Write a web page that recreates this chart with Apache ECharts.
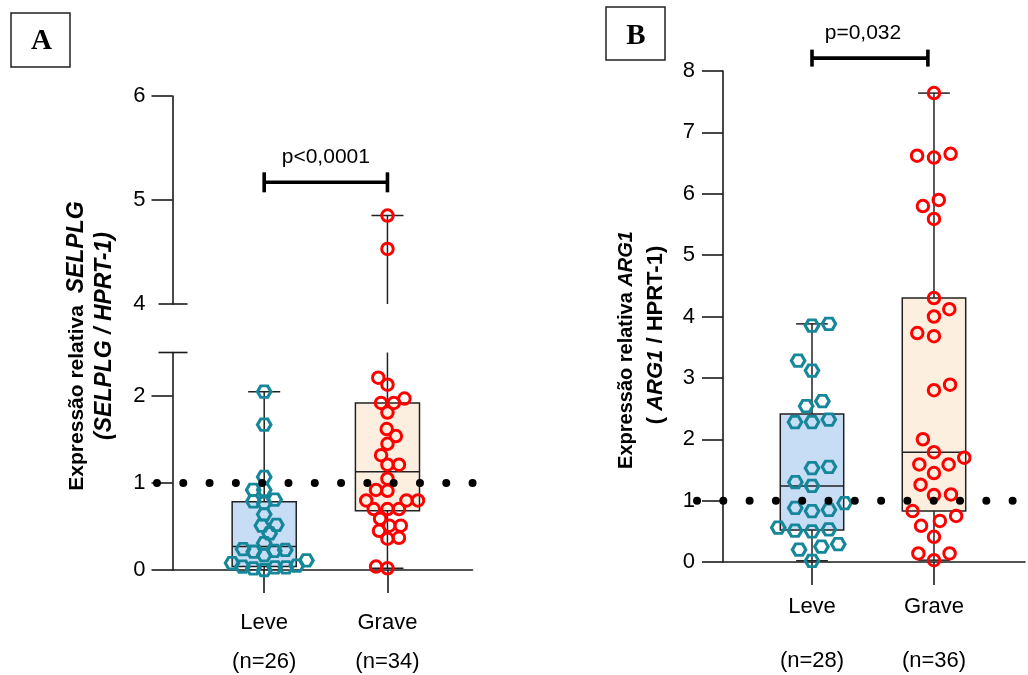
<!DOCTYPE html>
<html><head><meta charset="utf-8">
<script src="https://cdn.jsdelivr.net/npm/echarts@6/dist/echarts.min.js"></script>
<style>html,body{margin:0;padding:0;background:#fff}#c{width:1028px;height:675px}</style>
</head><body><div id="c"></div>
<script>
// ---------- data ----------
const categories = ['Leve', 'Grave'];
const nLabelsA = ['(n=26)', '(n=34)'];
const nLabelsB = ['(n=28)', '(n=36)'];

const selplgLeve = [2.05, 1.67, 1.07, 0.92, 0.92, 0.81, 0.77, 0.79, 0.64, 0.52, 0.51, 0.42, 0.31,
  0.23, 0.22, 0.21, 0.24, 0.17, 0.11, 0.08, 0.03, 0.04, 0.00, 0.05, 0.02, 0.03];
const selplgGrave = [4.85, 4.53, 2.21, 2.13, 1.92, 1.97, 1.92, 1.81, 1.62, 1.54, 1.45, 1.32, 1.21,
  1.21, 1.05, 0.91, 0.92, 0.80, 0.80, 0.80, 0.70, 0.70, 0.70, 0.59, 0.51, 0.51, 0.45, 0.36, 0.37, 0.02, 0.04];
const arg1Leve = [3.85, 3.88, 3.28, 3.12, 2.54, 2.62, 2.32, 2.28, 2.28, 1.53, 1.55, 1.24, 1.30,
  0.96, 0.83, 0.85, 0.88, 0.50, 0.53, 0.51, 0.56, 0.25, 0.20, 0.29, 0.02];
const arg1Grave = [7.64, 6.62, 6.65, 6.59, 5.90, 5.80, 5.59, 4.30, 4.12, 4.00, 3.73, 3.68, 2.80,
  2.89, 2.00, 1.79, 1.70, 1.59, 1.59, 1.45, 1.26, 1.10, 1.09, 0.83, 0.67, 0.75, 0.59, 0.41, 0.14, 0.14, 0.03];

// box stats: [min, q1, median, q3, max]
const boxSelplgLeve = [0.00, 0.04, 0.27, 0.785, 2.05];
const boxSelplgGrave = [0.02, 0.68, 1.13, 1.92, 4.85];
const boxArg1Leve = [0.02, 0.52, 1.24, 2.41, 3.88];
const boxArg1Grave = [0.03, 0.83, 1.79, 4.30, 7.64];

const ticksALow = [0, 1, 2];
const ticksAHigh = [4, 5, 6];
const ticksB = [0, 1, 2, 3, 4, 5, 6, 7, 8];
const breakLow = 2.5, breakHigh = 4;
const refValue = 1;
const pTextA = 'p<0,0001', pTextB = 'p=0,032';
const sigA = [1, 2, 5.17];
const sigB = [1, 1.95, 8.21];

// ---------- style ----------
const FONT = '"Liberation Sans", Arial, Helvetica, sans-serif';
const TEAL = '#15879b', RED = '#ff0000';
const FILL_LEVE = '#c7dcf5', FILL_GRAVE = '#fdefdf';
const INK = '#1a1a1a';
const BOX_HALF = 0.26, CAP_HALF = 0.13;
const HEX = 'path://M0,8.66L5,0L15,0L20,8.66L15,17.32L5,17.32Z';

const xMinA = 0.256, xMaxA = 2.69;
const xMinB = 0.2705, xMaxB = 2.746;

function xAxisCfg(gi, mn, mx, nLabels, margin, l2, show) {
  return {
    type: 'value', gridIndex: gi, min: mn, max: mx, show: show,
    axisLine: { show: true, onZero: false, lineStyle: { color: INK, width: 1.6 } },
    axisTick: { show: true, customValues: [1, 2], length: 23, lineStyle: { color: INK, width: 1.6 } },
    splitLine: { show: false },
    axisLabel: {
      customValues: [1, 2], margin: margin,
      formatter: v => '{a|' + categories[Math.round(v) - 1] + '}\n{b|' + nLabels[Math.round(v) - 1] + '}',
      rich: {
        a: { fontSize: 22, lineHeight: 26, color: '#000', fontFamily: FONT },
        b: { fontSize: 22, lineHeight: l2, color: '#000', fontFamily: FONT }
      }
    }
  };
}
function yAxisCfg(gi, mn, mx, labels, ticks, margin) {
  return {
    type: 'value', gridIndex: gi, min: mn, max: mx,
    axisLine: { show: true, onZero: false, lineStyle: { color: INK, width: 1.6 } },
    axisTick: { show: true, customValues: ticks, length: 21, lineStyle: { color: INK, width: 1.6 } },
    splitLine: { show: false },
    axisLabel: { customValues: labels, margin: margin, fontSize: 22, color: '#000', fontFamily: FONT }
  };
}

function boxRenderer(fill) {
  return function (params, api) {
    const x = api.value(0);
    const mn = api.coord([x, api.value(1)]), q1 = api.coord([x, api.value(2)]);
    const md = api.coord([x, api.value(3)]), q3 = api.coord([x, api.value(4)]);
    const mx = api.coord([x, api.value(5)]);
    const bl = api.coord([x - BOX_HALF, 0])[0], br = api.coord([x + BOX_HALF, 0])[0];
    const cl = api.coord([x - CAP_HALF, 0])[0], cr = api.coord([x + CAP_HALF, 0])[0];
    const st = { stroke: '#222', lineWidth: 1.5 };
    return {
      type: 'group', children: [
        { type: 'line', shape: { x1: mx[0], y1: mx[1], x2: q3[0], y2: q3[1] }, style: st },
        { type: 'line', shape: { x1: q1[0], y1: q1[1], x2: mn[0], y2: mn[1] }, style: st },
        { type: 'line', shape: { x1: cl, y1: mx[1], x2: cr, y2: mx[1] }, style: st },
        { type: 'line', shape: { x1: cl, y1: mn[1], x2: cr, y2: mn[1] }, style: st },
        { type: 'rect', shape: { x: bl, y: q3[1], width: br - bl, height: q1[1] - q3[1] }, style: { fill: fill, stroke: '#222', lineWidth: 1.5 } },
        { type: 'line', shape: { x1: bl, y1: md[1], x2: br, y2: md[1] }, style: st }
      ]
    };
  };
}
function boxSeries(id, xi, yi, center, stats, fill) {
  return {
    id: id, type: 'custom', xAxisIndex: xi, yAxisIndex: yi, clip: true, z: 2, silent: true,
    renderItem: boxRenderer(fill), encode: { x: 0, y: [1, 2, 3, 4, 5] },
    data: [[center].concat(stats)]
  };
}
function sigSeries(xi, yi, sig, text, tick, textDx) {
  return {
    type: 'custom', xAxisIndex: xi, yAxisIndex: yi, clip: false, z: 5, silent: true,
    encode: { x: [0, 1], y: 2 }, data: [sig],
    renderItem: function (params, api) {
      const a = api.coord([api.value(0), api.value(2)]);
      const b = api.coord([api.value(1), api.value(2)]);
      const st = { stroke: '#000', lineWidth: 3.6 };
      return {
        type: 'group', children: [
          { type: 'line', shape: { x1: a[0], y1: a[1], x2: b[0], y2: b[1] }, style: st },
          { type: 'line', shape: { x1: a[0], y1: a[1] - tick, x2: a[0], y2: a[1] + tick }, style: st },
          { type: 'line', shape: { x1: b[0], y1: b[1] - tick, x2: b[0], y2: b[1] + tick }, style: st },
          { type: 'text', style: { text: text, x: (a[0] + b[0]) / 2 + textDx, y: a[1] - 25, align: 'center', verticalAlign: 'middle', fontSize: 21, fontFamily: FONT, fill: '#000' } }
        ]
      };
    }
  };
}
function capSeries(xi, yi, xv, yv) {
  return {
    type: 'custom', xAxisIndex: xi, yAxisIndex: yi, clip: false, z: 3, silent: true,
    encode: { x: 0, y: 1 }, data: [[xv, yv]],
    renderItem: function (params, api) {
      const p = api.coord([api.value(0), api.value(1)]);
      return { type: 'line', shape: { x1: p[0] - 14, y1: p[1], x2: p[0] + 15, y2: p[1] }, style: { stroke: INK, lineWidth: 1.6 } };
    }
  };
}
function refSeries(xi, yi, x0, x1) {
  return {
    type: 'custom', xAxisIndex: xi, yAxisIndex: yi, clip: false, z: 6, silent: true,
    encode: { x: [0, 1], y: 2 }, data: [[x0, x1, refValue]],
    renderItem: function (params, api) {
      const a = api.coord([api.value(0), api.value(2)]);
      const b = api.coord([api.value(1), api.value(2)]);
      return { type: 'line', shape: { x1: a[0], y1: a[1], x2: b[0], y2: b[1] },
        style: { stroke: '#000', lineWidth: 8, lineDash: [0, 26.3], lineCap: 'round' } };
    }
  };
}
function pointSeries(id, xi, yi, center, values, symbol, color, size) {
  return {
    id: id, type: 'scatter', xAxisIndex: xi, yAxisIndex: yi, z: 4, silent: true,
    symbol: symbol, symbolSize: size,
    itemStyle: { color: 'rgba(0,0,0,0)', borderColor: color, borderWidth: 3, opacity: 1 },
    data: values.map(v => [center, v])
  };
}

const aGraveLow = selplgGrave.filter(v => v < breakLow);
const aGraveHigh = selplgGrave.filter(v => v >= breakHigh);
const aLeveLow = selplgLeve.filter(v => v < breakLow);

const HEX_SIZE = [13.5, 11.5], CIRC_SIZE = 11.5;

const option = {
  animation: false,
  backgroundColor: '#ffffff',
  grid: [
    { left: 172.5, top: 352.5, width: 300, height: 217.5, outerBoundsMode: 'none', containLabel: false },
    { left: 172.5, top: 96, width: 300, height: 208, outerBoundsMode: 'none', containLabel: false },
    { left: 723, top: 71, width: 302, height: 491, outerBoundsMode: 'none', containLabel: false }
  ],
  xAxis: [
    xAxisCfg(0, xMinA, xMaxA, nLabelsA, 40, 52, true),
    xAxisCfg(1, xMinA, xMaxA, nLabelsA, 40, 52, false),
    xAxisCfg(2, xMinB, xMaxB, nLabelsB, 32, 82, true)
  ],
  yAxis: [
    yAxisCfg(0, 0, breakLow, ticksALow, ticksALow, 27),
    yAxisCfg(1, breakHigh, 6, ticksAHigh, ticksAHigh.slice(1), 27),
    yAxisCfg(2, 0, 8, ticksB, ticksB, 28)
  ],
  graphic: [
    { type: 'rect', shape: { x: 11, y: 13, width: 59, height: 54 }, style: { fill: 'none', stroke: '#222', lineWidth: 1.5 } },
    { type: 'text', x: 41.5, y: 42, style: { text: 'A', align: 'center', verticalAlign: 'middle', fontSize: 29, fontWeight: 'bold', fontFamily: '"Liberation Serif", "Times New Roman", serif', fill: '#000' } },
    { type: 'rect', shape: { x: 606, y: 7, width: 59, height: 53 }, style: { fill: 'none', stroke: '#222', lineWidth: 1.5 } },
    { type: 'text', x: 636, y: 37, style: { text: 'B', align: 'center', verticalAlign: 'middle', fontSize: 29, fontWeight: 'bold', fontFamily: '"Liberation Serif", "Times New Roman", serif', fill: '#000' } },
    { type: 'text', x: 77, y: 346, rotation: Math.PI / 2, style: {
        text: 'Expressão relativa  {i|SELPLG}', align: 'center', verticalAlign: 'middle',
        fontSize: 21, fontWeight: 'bold', fontFamily: FONT, fill: '#000',
        rich: { i: { fontSize: 23, fontWeight: 'bold', fontStyle: 'italic', fontFamily: FONT, fill: '#000' } } } },
    { type: 'text', x: 105, y: 336, rotation: Math.PI / 2, style: {
        text: '(SELPLG / HPRT-1)', align: 'center', verticalAlign: 'middle',
        fontSize: 23, fontWeight: 'bold', fontStyle: 'italic', fontFamily: FONT, fill: '#000' } },
    { type: 'text', x: 626, y: 350, rotation: Math.PI / 2, style: {
        text: 'Expressão relativa {i|ARG1}', align: 'center', verticalAlign: 'middle',
        fontSize: 20, fontWeight: 'bold', fontFamily: FONT, fill: '#000',
        rich: { i: { fontSize: 20, fontWeight: 'bold', fontStyle: 'italic', fontFamily: FONT, fill: '#000' } } } },
    { type: 'text', x: 656, y: 335, rotation: Math.PI / 2, style: {
        text: '( {i|ARG1} / HPRT-1)', align: 'center', verticalAlign: 'middle',
        fontSize: 22, fontWeight: 'bold', fontFamily: FONT, fill: '#000',
        rich: { i: { fontSize: 22, fontWeight: 'bold', fontStyle: 'italic', fontFamily: FONT, fill: '#000' } } } }
  ],
  series: [
    boxSeries('bxAL0', 0, 0, 1, boxSelplgLeve, FILL_LEVE),
    boxSeries('bxAG0', 0, 0, 2, boxSelplgGrave, FILL_GRAVE),
    boxSeries('bxAG1', 1, 1, 2, boxSelplgGrave, FILL_GRAVE),
    boxSeries('bxBL', 2, 2, 1, boxArg1Leve, FILL_LEVE),
    boxSeries('bxBG', 2, 2, 2, boxArg1Grave, FILL_GRAVE),
    capSeries(0, 0, xMinA, breakLow),
    capSeries(1, 1, xMinA, breakHigh),
    pointSeries('ptAL', 0, 0, 1, aLeveLow, HEX, TEAL, HEX_SIZE),
    pointSeries('ptAG0', 0, 0, 2, aGraveLow, 'circle', RED, CIRC_SIZE),
    pointSeries('ptAG1', 1, 1, 2, aGraveHigh, 'circle', RED, CIRC_SIZE),
    pointSeries('ptBL', 2, 2, 1, arg1Leve, HEX, TEAL, HEX_SIZE),
    pointSeries('ptBG', 2, 2, 2, arg1Grave, 'circle', RED, CIRC_SIZE),
    refSeries(0, 0, xMinA - 0.126, 2.73),
    refSeries(2, 2, xMinB - 0.213, 3.0),
    sigSeries(1, 1, sigA, pTextA, 10, 0),
    sigSeries(2, 2, sigB, pTextB, 8.5, -7)
  ]
};

const chart = echarts.init(document.getElementById('c'), null, { renderer: 'canvas' });
chart.setOption(option);

// ---------- beeswarm layout through the chart's own scales ----------
function beeswarm(pys, D) {
  const order = pys.map((y, i) => i).sort((a, b) => pys[b] - pys[a]);
  const xs = new Array(pys.length); const placed = [];
  let lastSign = 1;
  for (const i of order) {
    const y = pys[i]; const cands = [0];
    for (const j of placed) {
      const dy = Math.abs(pys[j] - y);
      if (dy < D) { const dx = Math.sqrt(D * D - dy * dy); cands.push(xs[j] + dx, xs[j] - dx); }
    }
    cands.sort((a, b) => (Math.abs(a) - Math.abs(b)) || (lastSign > 0 ? a - b : b - a));
    let chosen = 0;
    for (const c of cands) {
      let ok = true;
      for (const j of placed) {
        const dx = xs[j] - c, dy = pys[j] - y;
        if (dx * dx + dy * dy < D * D - 1e-6) { ok = false; break; }
      }
      if (ok) { chosen = c; break; }
    }
    if (chosen !== 0) lastSign = Math.sign(chosen);
    xs[i] = chosen; placed.push(i);
  }
  return xs;
}
function swarmData(values, center, idx, D) {
  const f = { xAxisIndex: idx, yAxisIndex: idx };
  const k = chart.convertToPixel(f, [2, 0])[0] - chart.convertToPixel(f, [1, 0])[0];
  const pys = values.map(v => chart.convertToPixel(f, [center, v])[1]);
  const xs = beeswarm(pys, D);
  return values.map((v, i) => [center + xs[i] / k, v]);
}
chart.setOption({
  series: [
    { id: 'ptAL', data: swarmData(aLeveLow, 1, 0, 11) },
    { id: 'ptAG0', data: swarmData(aGraveLow, 2, 0, 11.5) },
    { id: 'ptAG1', data: swarmData(aGraveHigh, 2, 1, 11.5) },
    { id: 'ptBL', data: swarmData(arg1Leve, 1, 2, 17) },
    { id: 'ptBG', data: swarmData(arg1Grave, 2, 2, 17) }
  ]
});
</script>
</body></html>
